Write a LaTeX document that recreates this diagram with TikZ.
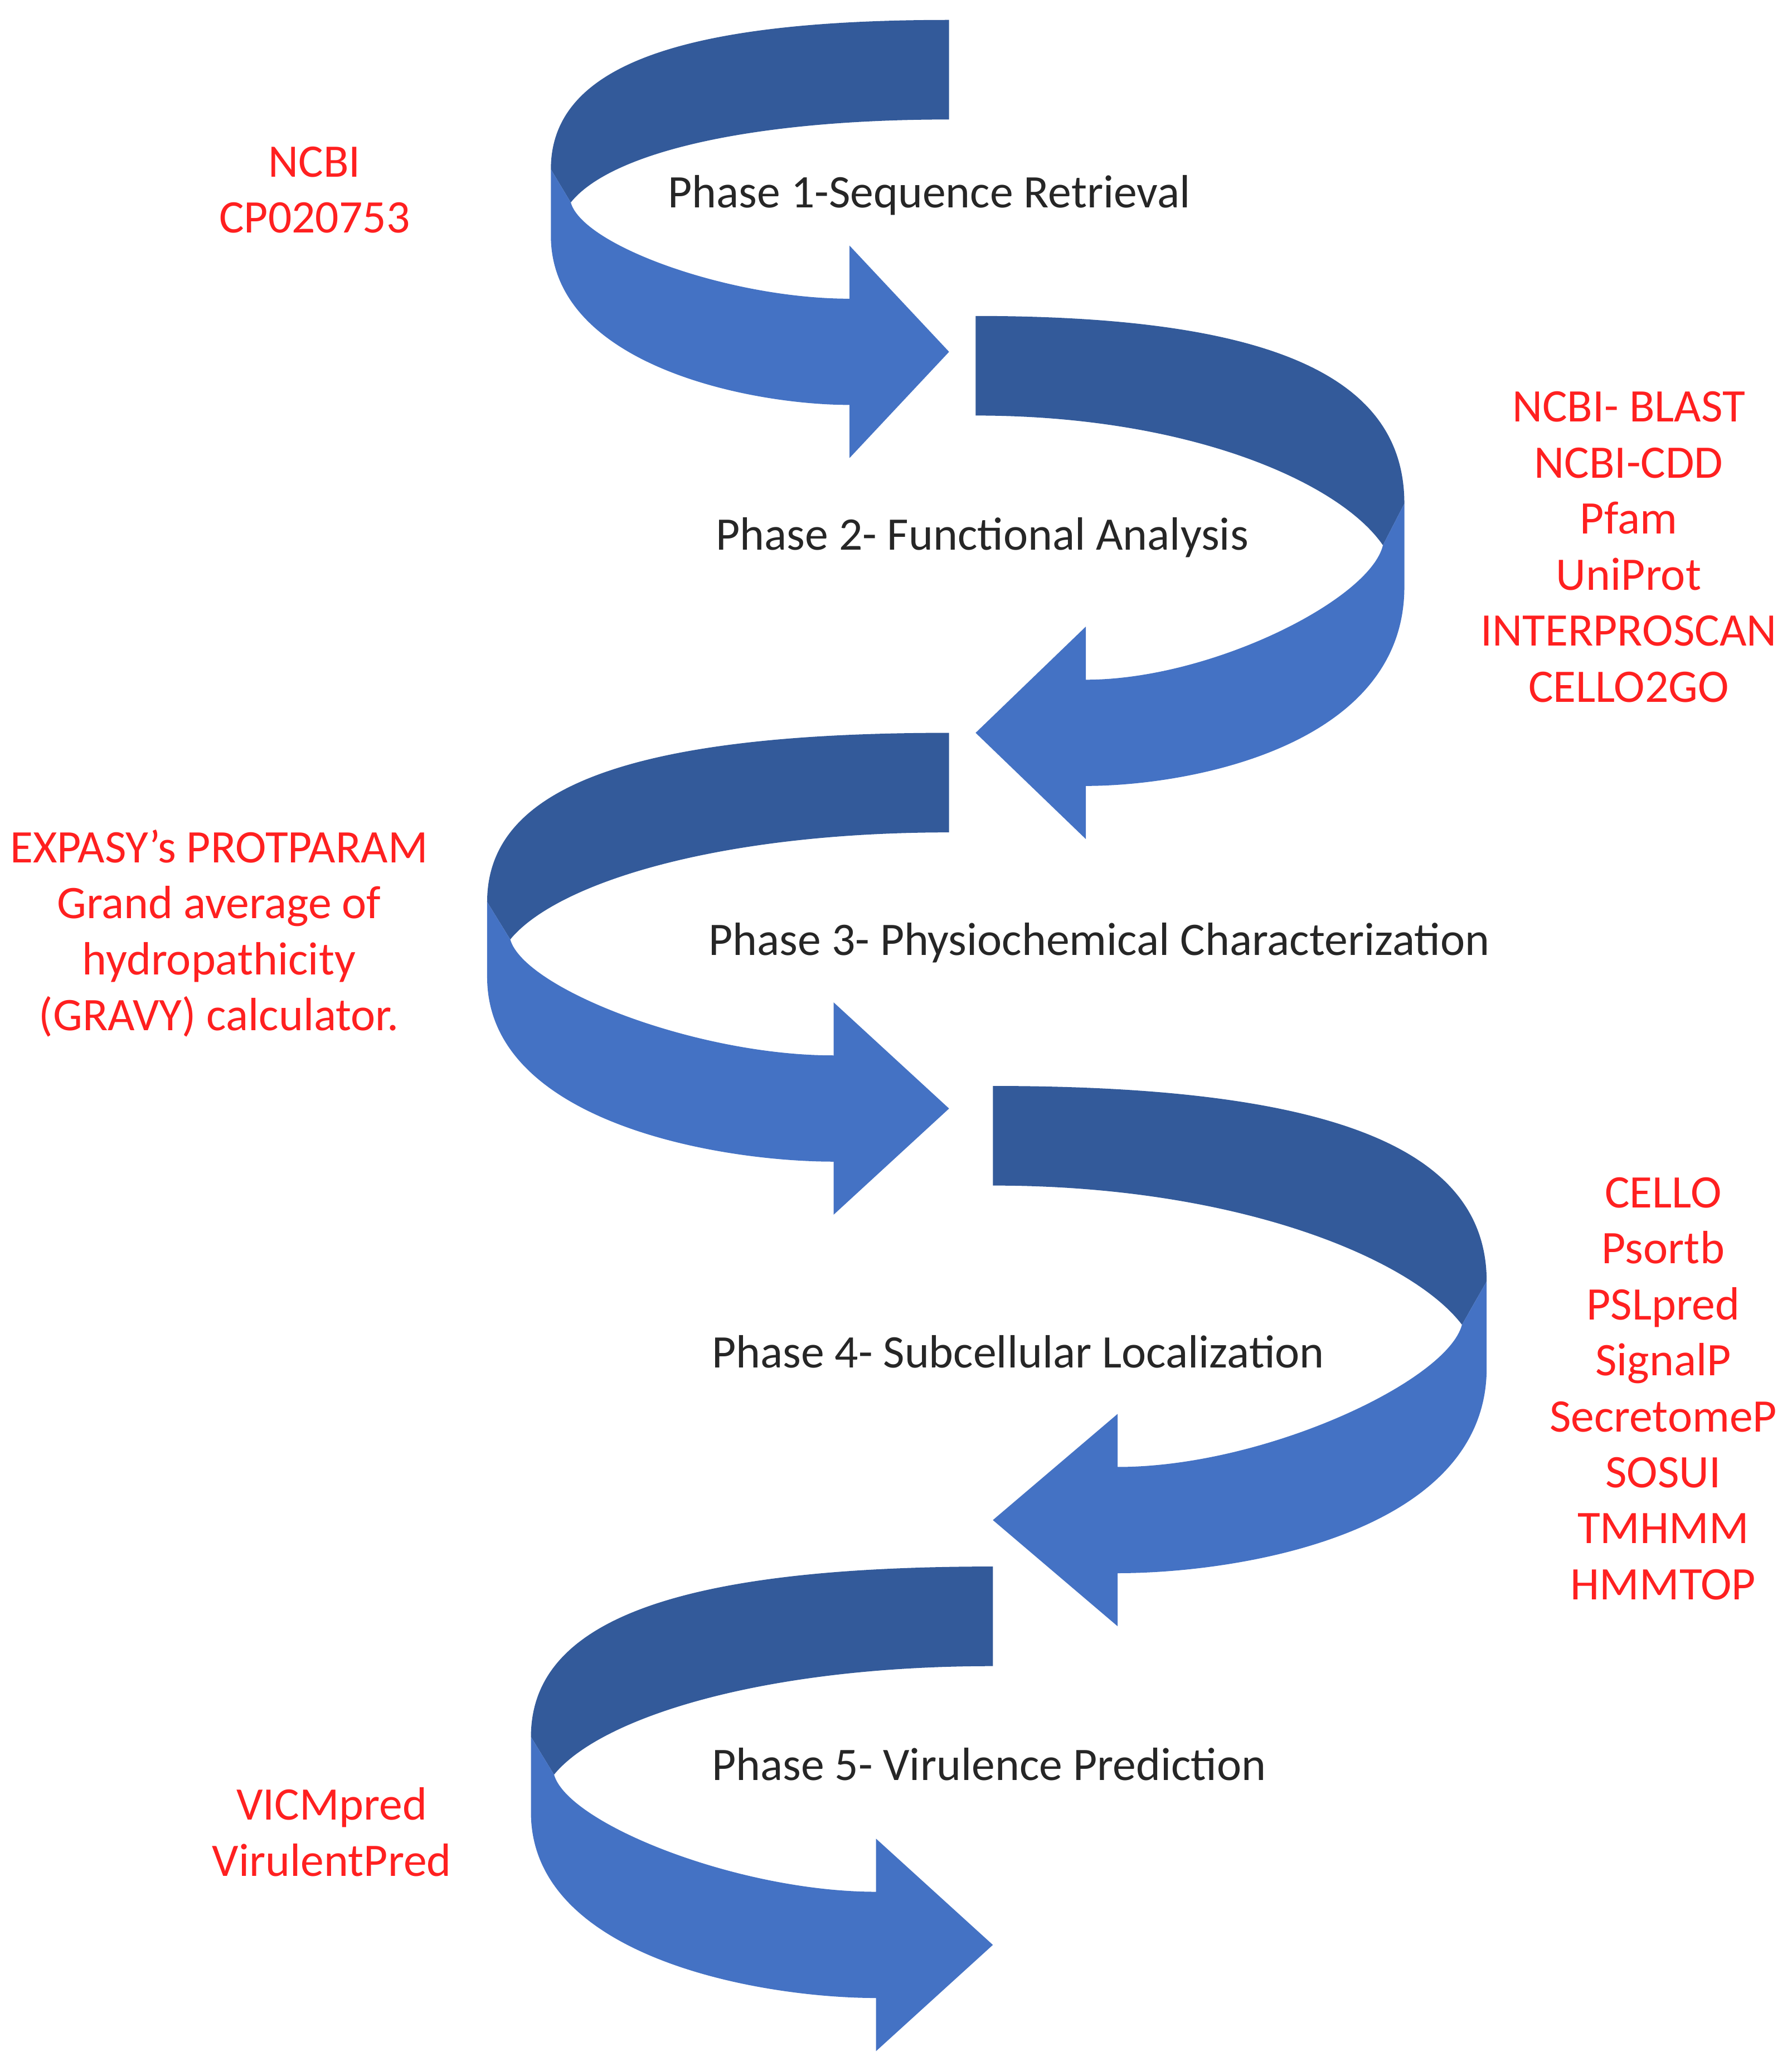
\documentclass[tikz,border=0pt]{standalone}
\usepackage{fontspec}
\setmainfont{Carlito}
\usetikzlibrary{positioning, calc}
\definecolor{bandDark}{HTML}{335A9A}
\definecolor{bandLight}{HTML}{4472C4}
\definecolor{toolRed}{HTML}{FF2020}
% one twisted phase arrow: start x, top y, extreme x, head x, centre y of head
\newcommand{\phasearrow}[5]{%
  \pgfmathsetmacro{\dd}{#1-#3}%
  \pgfmathsetmacro{\hh}{#5-#2}%
  \fill[bandDark] (#1,#2) .. controls ({#3+0.3*\dd},#2) and (#3,{#2+0.15*\hh}) .. (#3,{#2+0.45*\hh})
    -- ({#3+0.05*\dd},{#2+0.55*\hh}) .. controls ({#3+0.15*\dd},{#2+0.4*\hh}) and ({#3+0.5*\dd},{#2+75}) .. (#1,{#2+75}) -- cycle;
  \fill[bandLight] (#3,{#2+0.45*\hh}) -- (#3,{#2+0.65*\hh}) .. controls (#3,{#5+10}) and ({#3+0.5*\dd},{#5+40}) .. (#4,{#5+40})
    -- (#4,{#5+80}) -- (#1,#5) -- (#4,{#5-80}) -- (#4,{#5-40})
    .. controls ({#3+0.45*\dd},{#5-40}) and ({#3+0.08*\dd},{#2+0.68*\hh}) .. ({#3+0.05*\dd},{#2+0.55*\hh}) -- cycle;
}
\begin{document}
\begin{tikzpicture}[x=0.02cm, y=-0.02cm,
  phase/.style={font=\fontsize{20}{24}\selectfont, text=black!85},
  tools/.style={font=\fontsize{20}{24}\selectfont, text=toolRed, align=center}]
\useasboundingbox (0,0) rectangle (1350,1560);

% the five twisted arrows
\phasearrow{715}{15}{415}{640}{265}
\phasearrow{735}{238}{1058}{818}{552}
\phasearrow{715}{552}{367}{628}{835}
\phasearrow{748}{818}{1120}{842}{1145}
\phasearrow{748}{1180}{400}{660}{1465}

% phase titles
\node[phase] (p1) at (700,147) {Phase 1-Sequence Retrieval};
\node[phase] (p2) at (740,405) {Phase 2- Functional Analysis};
\node[phase] (p3) at (828,710) {Phase 3- Physiochemical Characterization};
\node[phase] (p4) at (767,1018) {Phase 4- Subcellular Localization};
\node[phase] (p5) at (745,1329) {Phase 5- Virulence Prediction};

% tools
\node[tools] (t1) at (237,143) {NCBI\\CP020753};
\node[tools] (t2) at (1227,412) {NCBI- BLAST\\NCBI-CDD\\Pfam\\UniProt\\INTERPROSCAN\\CELLO2GO};
\node[tools] (t3) at (165,703) {EXPASY’s PROTPARAM\\Grand average of\\hydropathicity\\(GRAVY) calculator.};
\node[tools] (t4) at (1253,1046) {CELLO\\Psortb\\PSLpred\\SignalP\\SecretomeP\\SOSUI\\TMHMM\\HMMTOP};
\node[tools] (t5) at (250,1380) {VICMpred\\VirulentPred};
\end{tikzpicture}
\end{document}
